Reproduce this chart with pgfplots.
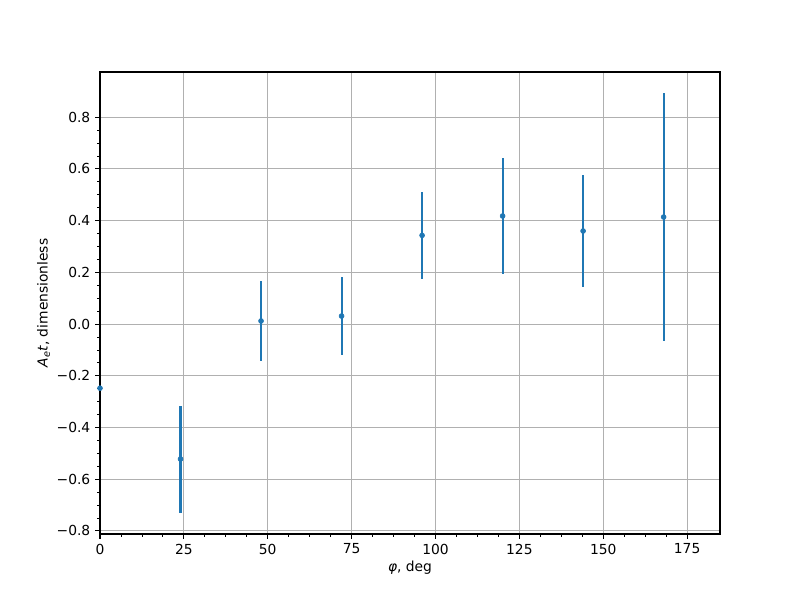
\documentclass[border=0pt]{standalone}
\usepackage{fontspec}
\setmainfont{DejaVu Sans}
\usepackage{pgfplots}
\pgfplotsset{compat=1.18}
\definecolor{tabblue}{HTML}{1F77B4}
\definecolor{gridgray}{HTML}{B0B0B0}

\begin{document}
\begin{tikzpicture}
\useasboundingbox (-1in,-0.66in) rectangle (7in,5.34in);
\begin{axis}[
  at={(0,0)}, anchor=south west,
  scale only axis, width=6.2in, height=4.62in,
  xmin=0, xmax=184.8, ymin=-0.812, ymax=0.975,
  font=\fontsize{10}{12}\selectfont,
  axis line style={line width=0.8pt},
  tick align=outside, tick pos=left,
  major tick length=3.5pt, minor tick length=2pt,
  every tick/.style={black, line width=0.8pt},
  every minor tick/.style={black, line width=0.6pt},
  xtick={0,25,...,175}, minor x tick num=3,
  ytick={-0.8,-0.6,...,0.81}, minor y tick num=3,
  xticklabels={0,25,50,75,100,125,150,175},
  yticklabels={−0.8,−0.6,−0.4,−0.2,0.0,0.2,0.4,0.6,0.8},
  grid=major, major grid style={gridgray, line width=0.8pt},
  xlabel={{\itshape φ}, deg},
  ylabel={{\itshape A}\textsubscript{\itshape e}{\itshape t}, dimensionless},
  xlabel style={yshift=2pt},
  ylabel style={yshift=-2pt},
]
\addplot[tabblue, only marks, mark=*, mark size=1.8pt,
  error bars/.cd, y dir=both, y explicit, error mark=none,
  error bar style={tabblue, line width=1.5pt}]
  table[x=x, y=y, y error=e] {
x     y       e
0     -0.248  0
24    -0.522  0.207
48     0.012  0.153
72     0.031  0.152
96     0.343  0.169
120    0.418  0.223
144    0.360  0.217
168    0.414  0.479
};
\end{axis}
\end{tikzpicture}
\end{document}
